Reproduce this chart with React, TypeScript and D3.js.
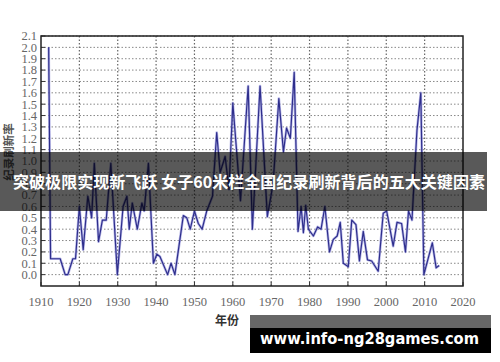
import React from "react";
import * as d3 from "d3";

// record refresh rate by year
const years = [
  1912, 1912.5, 1915, 1916.3, 1917, 1918.3, 1919, 1920, 1921, 1922.2, 1923.2, 1923.9,
  1925, 1926, 1927, 1928.2, 1929.9, 1931.4, 1932.4, 1933, 1933.8, 1935.1, 1936.3, 1936.9,
  1938, 1939.3, 1940.2, 1941, 1943, 1943.9, 1944.9, 1947.1, 1948, 1948.9, 1950, 1951,
  1952, 1953.2, 1954.7, 1955.8, 1956.7, 1958, 1959, 1960, 1962, 1964, 1965.1, 1967.1,
  1969, 1970.5, 1972, 1973.2, 1974, 1975, 1976, 1977, 1977.8, 1978.4, 1979, 1979.7,
  1981, 1982.1, 1983, 1984, 1985.2, 1986.2, 1987.2, 1988, 1988.8, 1990.1, 1991, 1992.1,
  1993, 1994, 1995.1, 1996.2, 1997.9, 1999.2, 2000.1, 2001.8, 2002.8, 2004, 2005, 2005.8,
  2006.7, 2008, 2009, 2009.8, 2012, 2013, 2013.8,
];
const rates = [
  2.0, 0.14, 0.14, 0.0, 0.0, 0.14, 0.14, 0.6, 0.22, 0.69, 0.5, 0.98,
  0.29, 0.48, 0.48, 0.98, 0.0, 0.6, 0.69, 0.4, 0.63, 0.4, 0.63, 0.56,
  0.98, 0.1, 0.18, 0.16, 0.0, 0.1, 0.0, 0.52, 0.5, 0.4, 0.56, 0.45,
  0.4, 0.56, 0.69, 1.25, 0.9, 1.04, 0.75, 1.51, 0.65, 1.66, 0.4, 1.66,
  0.51, 0.8, 1.55, 1.08, 1.29, 1.2, 1.78, 0.38, 0.6, 0.37, 0.61, 0.4,
  0.34, 0.42, 0.4, 0.6, 0.2, 0.31, 0.34, 0.46, 0.1, 0.07, 0.48, 0.44,
  0.12, 0.38, 0.13, 0.12, 0.03, 0.54, 0.56, 0.25, 0.46, 0.45, 0.2, 0.56,
  0.48, 1.27, 1.6, 0.0, 0.28, 0.06, 0.08,
];

const xTicks = d3.range(1910, 2021, 10);
const yTicks = d3.range(0, 22).map((i) => i / 10);

const title = "突破极限实现新飞跃 女子60米栏全国纪录刷新背后的五大关键因素";
const site = "www.info-ng28games.com";

const W = 500;
const H = 362;

export default function App() {
  const x = d3.scaleLinear().domain([1910, 2020]).range([41, 463]);
  const y = d3.scaleLinear().domain([-0.1, 2.1]).range([286, 36]);

  const line = d3
    .line<number>()
    .x((d, i) => x(years[i]))
    .y((d) => y(d));

  const serif = "'Liberation Serif', 'DejaVu Serif', serif";

  return (
    <div style={{ position: "absolute", left: 0, top: 0 }}>
      <svg width={W} height={H} style={{ display: "block", background: "#fff" }}>
        {/* grid */}
        {yTicks.map((t) => (
          <line key={"gy" + t} x1={x(1910)} x2={x(2020)} y1={y(t)} y2={y(t)}
            stroke="#888" strokeWidth={1} strokeDasharray="1.5,2" />
        ))}
        {xTicks.slice(1, -1).map((t) => (
          <line key={"gx" + t} x1={x(t)} x2={x(t)} y1={y(2.1)} y2={y(-0.1)}
            stroke="#666" strokeWidth={1.2} strokeDasharray="1.5,2" />
        ))}
        {/* tick marks */}
        {xTicks.map((t) => (
          <line key={"tx" + t} x1={x(t)} x2={x(t)} y1={y(-0.1)} y2={y(-0.1) - 4}
            stroke="#333" />
        ))}
        {yTicks.map((t) => (
          <line key={"ty" + t} x1={x(1910)} x2={x(1910) + 4} y1={y(t)} y2={y(t)}
            stroke="#333" />
        ))}
        {/* series */}
        <path d={line(rates) || ""} fill="none" stroke="#8a8ad8" strokeWidth={2.6}
          strokeLinejoin="round" opacity={0.6} />
        <path d={line(rates) || ""} fill="none" stroke="#2e2e8c" strokeWidth={1.2}
          strokeLinejoin="round" />
        {/* frame */}
        <rect x={x(1910)} y={y(2.1)} width={x(2020) - x(1910)} height={y(-0.1) - y(2.1)}
          fill="none" stroke="#222" strokeWidth={1.5} />
        {/* y tick labels */}
        {yTicks.map((t) => (
          <text key={"ly" + t} x={37} y={y(t)} dy="0.35em" textAnchor="end"
            fontFamily={serif} fontSize={12.5} fill="#666">
            {t.toFixed(1)}
          </text>
        ))}
        {/* x tick labels */}
        {xTicks.map((t) => (
          <text key={"lx" + t} x={x(t)} y={306} textAnchor="middle"
            fontFamily={serif} fontSize={12.5} fill="#666">
            {t}
          </text>
        ))}
        <text x={227} y={325} textAnchor="middle" fontFamily="'Noto Sans CJK SC'"
          fontWeight="bold" fontSize={12} fill="#333">年份</text>
        <text transform="translate(9,152) rotate(-90)" textAnchor="middle" dy="0.35em"
          fontFamily="'Noto Sans CJK SC'" fontWeight="bold" fontSize={11.5} fill="#555">
          纪录刷新率
        </text>
        {/* title band */}
        <rect x={0} y={152} width={487} height={59} fill="#000" opacity={0.65} />
        <text x={13} y={188} fontFamily="'Noto Sans CJK SC'" fontWeight="bold"
          fontSize={16} fill="#fff" textLength={472} lengthAdjust="spacingAndGlyphs">
          {title}
        </text>
        {/* site watermark */}
        <rect x={250} y={315} width={241} height={13} fill="#666" />
        <rect x={250} y={328} width={241} height={25} fill="#000" />
        <text x={260} y={344} fontFamily="'DejaVu Sans'" fontWeight="bold" fontSize={16}
          fill="#fff" textLength={219} lengthAdjust="spacingAndGlyphs">
          {site}
        </text>
      </svg>
    </div>
  );
}
